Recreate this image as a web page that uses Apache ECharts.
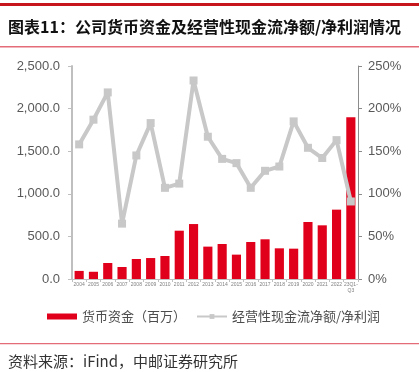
<!DOCTYPE html>
<html><head><meta charset="utf-8">
<script src="https://cdn.jsdelivr.net/npm/echarts@6/dist/echarts.min.js"></script>
<style>html,body{margin:0;padding:0;background:#fff}#c{width:419px;height:372px}</style>
</head><body><div id="c"></div>
<script>
var categories = ['2004','2005','2006','2007','2008','2009','2010','2011','2012','2013','2014','2015','2016','2017','2018','2019','2020','2021','2022','23Q1-\nQ3'];
var cashValues = [95,85,188,141,235,246,270,567,645,380,411,286,434,466,360,356,669,630,814,1898];
var ratioValues = [158,187,219,65,145,183,107,112,233,167,141,136,107,127,132,185,154,142,163,91];
var leftTicks = {min:0, max:2500, interval:500};
var rightTicks = {min:0, max:250, interval:50};
var titleText = '图表11：公司货币资金及经营性现金流净额/净利润情况';
var sourceText = '资料来源：iFind，中邮证券研究所';
var seriesNames = ['货币资金（百万）','经营性现金流净额/净利润'];

var chart = echarts.init(document.getElementById('c'));
var cjk = '"Noto Sans CJK SC", sans-serif';
chart.setOption({
  animation:false,
  textStyle:{fontFamily:cjk},
  graphic:[
    {type:'rect', shape:{x:0,y:3,width:419,height:3}, style:{fill:'#c8161d'}},
    {type:'rect', shape:{x:0,y:46,width:419,height:1.5}, style:{fill:'#e36c78'}},
    {type:'text', left:8, top:19, style:{text:titleText, fill:'#111', font:'bold 16px "Noto Sans CJK SC"'}},
    {type:'rect', shape:{x:0,y:343,width:419,height:1.2}, style:{fill:'#e36c78'}},
    {type:'text', left:8, top:354, style:{text:sourceText, fill:'#333', font:'15px "Noto Sans CJK SC"'}}
  ],
  legend:{
    bottom:44, left:42, itemGap:10, itemWidth:30, itemHeight:6,
    textStyle:{fontSize:13, color:'#4d4d4d', fontFamily:cjk},
    data:[{name:seriesNames[0], icon:'rect'},{name:seriesNames[1]}]
  },
  grid:{left:72, right:61, top:66, bottom:93},
  xAxis:{
    type:'category', data:categories,
    axisLine:{show:true, lineStyle:{color:'#bfbfbf', width:1}},
    axisTick:{show:true, length:3, lineStyle:{color:'#bfbfbf'}},
    axisLabel:{fontSize:5, color:'#808080', interval:0, margin:3, lineHeight:6, fontFamily:'Arial'}
  },
  yAxis:[
    {type:'value', min:leftTicks.min, max:leftTicks.max, interval:leftTicks.interval,
     splitLine:{show:false},
     axisLine:{show:true, lineStyle:{color:'#bfbfbf', width:2}},
     axisTick:{show:true, length:4, lineStyle:{color:'#bfbfbf'}},
     axisLabel:{fontSize:13, color:'#595959', margin:12, fontFamily:'Arial',
       formatter:function(v){return v.toLocaleString('en-US',{minimumFractionDigits:1,maximumFractionDigits:1});}}},
    {type:'value', min:rightTicks.min, max:rightTicks.max, interval:rightTicks.interval,
     splitLine:{show:false},
     axisLine:{show:true, lineStyle:{color:'#8c8c8c', width:1}},
     axisTick:{show:true, length:4, lineStyle:{color:'#8c8c8c'}},
     axisLabel:{fontSize:13, color:'#595959', margin:10, fontFamily:'Arial', formatter:'{value}%'}}
  ],
  series:[
    {name:seriesNames[0], type:'bar', data:cashValues, yAxisIndex:0, barCategoryGap:'36%',
     itemStyle:{color:'#e0001b'}},
    {name:seriesNames[1], type:'line', data:ratioValues, yAxisIndex:1,
     symbol:'rect', symbolSize:8,
     lineStyle:{color:'#c8c8c8', width:4}, itemStyle:{color:'#c8c8c8'}}
  ]
});
</script></body></html>
